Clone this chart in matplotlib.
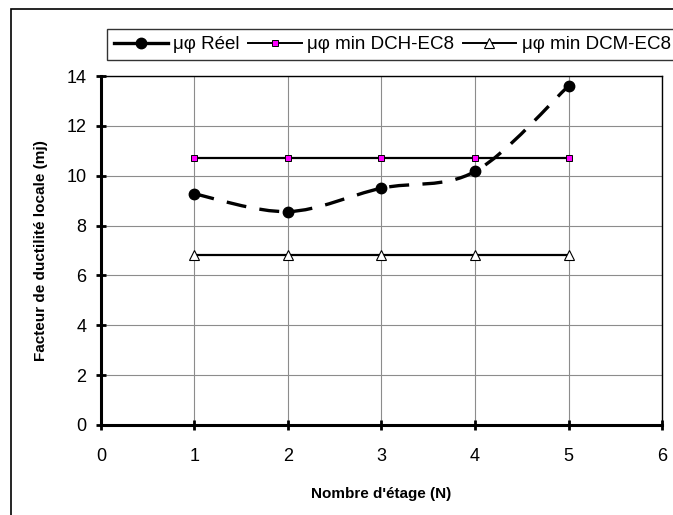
import numpy as np
import matplotlib
matplotlib.use("Agg")
import matplotlib.pyplot as plt
from matplotlib.path import Path
from matplotlib.patches import PathPatch, Rectangle
from matplotlib.lines import Line2D

plt.rcParams['font.family'] = ['Liberation Sans', 'DejaVu Sans']

# --- data ---
etages = [1, 2, 3, 4, 5]
mu_reel = [9.27, 8.56, 9.50, 10.17, 13.60]
mu_dch = [10.70, 10.70, 10.70, 10.70, 10.70]
mu_dcm = [6.82, 6.82, 6.82, 6.82, 6.82]
labels = ["μφ Réel", "μφ min DCH-EC8", "μφ min DCM-EC8"]


def smooth_path(x, y):
    """Bezier path like Excel's smoothed line."""
    pts = np.column_stack([x, y]).astype(float)
    n = len(pts)
    verts = [pts[0]]
    codes = [Path.MOVETO]
    for i in range(n - 1):
        p0 = pts[max(i - 1, 0)]
        p1 = pts[i]
        p2 = pts[i + 1]
        p3 = pts[min(i + 2, n - 1)]
        c1 = p1 + (p2 - p0) / 6.0
        c2 = p2 - (p3 - p1) / 6.0
        verts += [c1, c2, p2]
        codes += [Path.CURVE4] * 3
    return Path(verts, codes)


fig = plt.figure(figsize=(6.73, 5.15), dpi=100)
ax = fig.add_axes([0.150, 0.1748, 0.8337, 0.6776])

# figure border (Excel chart area)
fig.patches.append(Rectangle((11 / 673, -0.1), 2.0, 1 - 9 / 515 + 0.1,
                             transform=fig.transFigure, fill=False,
                             edgecolor='black', lw=1.2))

ax.grid(True, color='#8c8c8c', lw=0.8)
ax.set_axisbelow(True)

# horizontal EC8 limits
ax.plot(etages, mu_dch, color='black', lw=1.6, marker='s', ms=5,
        mfc='#ff00ff', mec='black', mew=0.7, zorder=3)
ax.plot(etages, mu_dcm, color='black', lw=1.6, marker='^', ms=7,
        mfc='white', mec='black', mew=0.8, zorder=3)

# real ductility, smoothed dashed
patch = PathPatch(smooth_path(etages, mu_reel), facecolor='none',
                  edgecolor='black', lw=2.4, linestyle=(0, (6, 4)),
                  zorder=4, capstyle='butt')
ax.add_patch(patch)
ax.plot(etages, mu_reel, linestyle='none', marker='o', ms=7.5,
        color='black', zorder=5)

ax.set_xlim(0, 6)
ax.set_ylim(0, 14)
ax.set_xticks(range(0, 7))
ax.set_yticks(range(0, 15, 2))
ax.tick_params(axis='both', direction='inout', length=7, width=2,
               labelsize=13)
ax.tick_params(axis='x', pad=13)
ax.tick_params(axis='y', pad=7)

for s in ['left', 'bottom']:
    ax.spines[s].set_linewidth(2.2)
for s in ['top', 'right']:
    ax.spines[s].set_linewidth(1.0)

ax.set_xlabel("Nombre d'étage (N)", fontsize=11, fontweight='bold', labelpad=16)
ax.set_ylabel("Facteur de ductilité locale (mj)", fontsize=11,
              fontweight='bold', labelpad=13)

handles = [
    Line2D([], [], color='black', lw=2.4, marker='o', ms=7.5),
    Line2D([], [], color='black', lw=1.4, marker='s', ms=5,
           mfc='#ff00ff', mec='black', mew=0.7),
    Line2D([], [], color='black', lw=1.4, marker='^', ms=6.5,
           mfc='white', mec='black', mew=0.8),
]
leg = fig.legend(handles, labels, loc='upper left', ncol=3,
                 bbox_to_anchor=(107 / 673, 1 - 29 / 515), fontsize=13.5,
                 frameon=True, fancybox=False, edgecolor='black',
                 handlelength=2.85, handletextpad=0.3, columnspacing=0.45,
                 borderpad=0.38, borderaxespad=0)
leg.get_frame().set_linewidth(1.0)

fig.savefig("out.png", dpi=100)
